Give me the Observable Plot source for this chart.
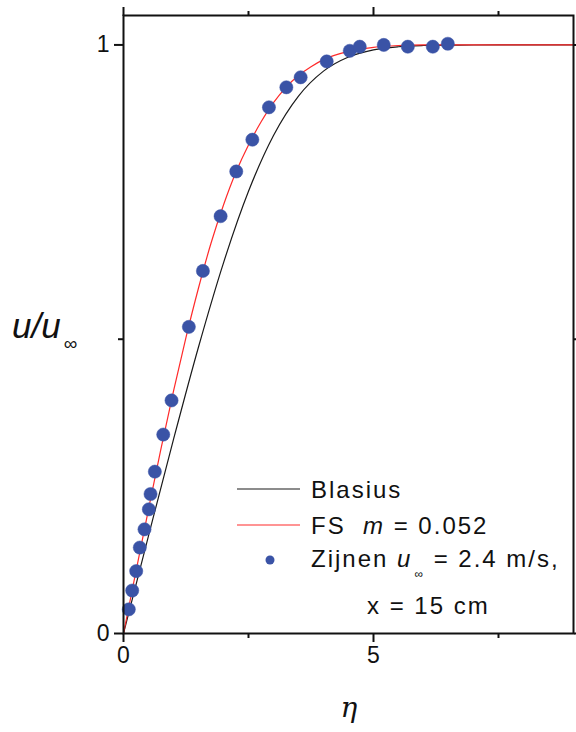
<!DOCTYPE html>
<html><head><meta charset="utf-8">
<script src="https://cdn.jsdelivr.net/npm/d3@7"></script>
<script src="https://cdn.jsdelivr.net/npm/@observablehq/plot@0.6"></script>
<style>body{margin:0;background:#fff} svg{display:block}</style>
</head><body><div id="chart"></div>
<script>
// Zijnen measurements (u_inf = 2.4 m/s, x = 15 cm)
const etaZijnen = [0.106,0.174,0.254,0.326,0.42,0.507,0.541,0.627,0.795,0.961,1.307,1.588,1.942,2.255,2.577,2.909,3.257,3.543,4.064,4.525,4.725,5.205,5.686,6.186,6.486];
const uZijnen   = [0.041,0.073,0.106,0.146,0.177,0.211,0.237,0.275,0.338,0.396,0.521,0.616,0.709,0.785,0.839,0.894,0.928,0.945,0.972,0.990,0.997,1.000,0.997,0.997,1.002];
// Blasius profile
const etaBlasius = [0,0.5,1.0,1.5,2.0,2.5,3.0,3.5,4.0,4.5,5.0,5.5,6.0,6.5,7.0,8.0,9.0];
const uBlasius   = [0,0.1659,0.3298,0.4868,0.6298,0.7513,0.8461,0.9131,0.9555,0.9795,0.9916,0.9969,0.9990,0.9997,0.9999,1.0,1.0];
// Falkner-Skan m = 0.052
const etaFS = [0,0.25,0.5,0.75,1.0,1.25,1.5,1.75,2.0,2.25,2.5,2.75,3.0,3.25,3.5,3.75,4.0,4.5,5.0,5.5,6.0,9.0];
const uFS   = [0,0.106,0.211,0.314,0.412,0.503,0.587,0.663,0.728,0.784,0.830,0.869,0.902,0.928,0.948,0.963,0.975,0.989,0.996,0.999,1.0,1.0];

const xTicks = [0, 5];
const xTickLabels = ["0", "5"];
const xMinorTicks = [2.5, 7.5];
const yTicks = [0, 1];
const yTickLabels = ["0", "1"];
const yMinorTicks = [0.5];
const legendLabels = ["Blasius", "FS", "Zijnen"];

const zijnen = etaZijnen.map((e, i) => ({eta: e, u: uZijnen[i]}));
const blasius = etaBlasius.map((e, i) => ({eta: e, u: uBlasius[i]}));
const fs = etaFS.map((e, i) => ({eta: e, u: uFS[i]}));

const INK = "#111";
const FONT = "'Liberation Sans', Arial, sans-serif";
const TICKFONT = 23;
const plot = Plot.plot({
  width: 576, height: 732,
  marginLeft: 123, marginRight: 3, marginTop: 15, marginBottom: 99,
  x: {domain: [0, 9]},
  y: {domain: [0, 1.05]},
  style: {fontFamily: FONT, fontSize: TICKFONT + "px", color: INK, background: "#fff", overflow: "visible"},
  marks: [
    Plot.line(blasius, {x: "eta", y: "u", stroke: "#1a1a1a", strokeWidth: 1.2, curve: "monotone-x"}),
    Plot.line(fs, {x: "eta", y: "u", stroke: "#ff2a2a", strokeWidth: 1.2, curve: "monotone-x"}),
    Plot.dot(zijnen, {x: "eta", y: "u", r: 6.6, fill: "#3a53a6", stroke: "#3a53a6", strokeWidth: 0.5}),
    Plot.axisX({ticks: xTicks, tickFormat: d => xTickLabels[xTicks.indexOf(d)], tickSize: 9, tickPadding: 4, fontSize: TICKFONT, label: null, strokeWidth: 2}),
    Plot.axisX({ticks: xMinorTicks, text: null, tickSize: 5, label: null, strokeWidth: 2}),
    Plot.axisX({anchor: "top", ticks: xTicks, text: null, tickSize: 9, label: null, strokeWidth: 2}),
    Plot.axisX({anchor: "top", ticks: xMinorTicks, text: null, tickSize: 5, label: null, strokeWidth: 2}),
    Plot.axisY({ticks: yTicks, tickFormat: d => yTickLabels[yTicks.indexOf(d)], tickSize: 9, tickPadding: 5, fontSize: TICKFONT, label: null, strokeWidth: 2}),
    Plot.axisY({ticks: yMinorTicks, text: null, tickSize: 5, label: null, strokeWidth: 2}),
    Plot.axisY({anchor: "right", ticks: yTicks, text: null, tickSize: 5, label: null, strokeWidth: 2}),
    Plot.axisY({anchor: "right", ticks: yMinorTicks, text: null, tickSize: 3, label: null, strokeWidth: 2}),
    Plot.frame({stroke: INK, strokeWidth: 2})
  ]
});
document.getElementById("chart").appendChild(plot);

const svg = d3.select(plot);
svg.selectAll("g[aria-label*='tick label']").attr("font-size", TICKFONT);
svg.selectAll("g[aria-label*='tick label'] text").attr("font-size", TICKFONT).style("font-size", TICKFONT + "px").style("fill", INK);

// axis titles
const yl = svg.append("text").attr("x", 12).attr("y", 338).attr("text-anchor", "start")
  .attr("font-family", FONT).attr("font-size", 35).attr("fill", INK);
yl.append("tspan").attr("font-style", "italic").text("u/u");
yl.append("tspan").attr("dy", 12).attr("dx", 3).attr("font-size", 19).text("\u221E");

svg.append("text").attr("x", 349).attr("y", 717).attr("text-anchor", "middle")
  .attr("font-family", "'DejaVu Serif', 'Liberation Serif', serif").attr("font-style", "italic")
  .attr("font-size", 28).attr("fill", INK).text("\u03B7");

// legend
const lg = svg.append("g").attr("font-family", FONT).attr("text-anchor", "start")
  .attr("font-size", 24).attr("fill", INK).attr("letter-spacing", 2).style("white-space", "pre");
lg.append("line").attr("x1", 237).attr("x2", 300).attr("y1", 489).attr("y2", 489).attr("stroke", "#1a1a1a").attr("stroke-width", 1.2);
lg.append("text").attr("x", 311).attr("y", 498).text(legendLabels[0]);
lg.append("line").attr("x1", 237).attr("x2", 300).attr("y1", 525).attr("y2", 525).attr("stroke", "#ff2a2a").attr("stroke-width", 1.2);
const t2 = lg.append("text").attr("x", 311).attr("y", 534);
t2.append("tspan").text(legendLabels[1] + "  ");
t2.append("tspan").attr("font-style", "italic").text("m");
t2.append("tspan").text(" = 0.052");
lg.append("circle").attr("cx", 270).attr("cy", 560).attr("r", 4.5).attr("fill", "#3a53a6");
const t3 = lg.append("text").attr("x", 311).attr("y", 567);
t3.append("tspan").text(legendLabels[2] + " ");
t3.append("tspan").attr("font-style", "italic").text("u");
t3.append("tspan").attr("dy", 11).attr("dx", 2).attr("font-size", 12).text("\u221E");
t3.append("tspan").attr("dy", -11).text(" = 2.4 m/s,");
lg.append("text").attr("x", 367).attr("y", 614).text("x = 15 cm");
</script>
</body></html>
